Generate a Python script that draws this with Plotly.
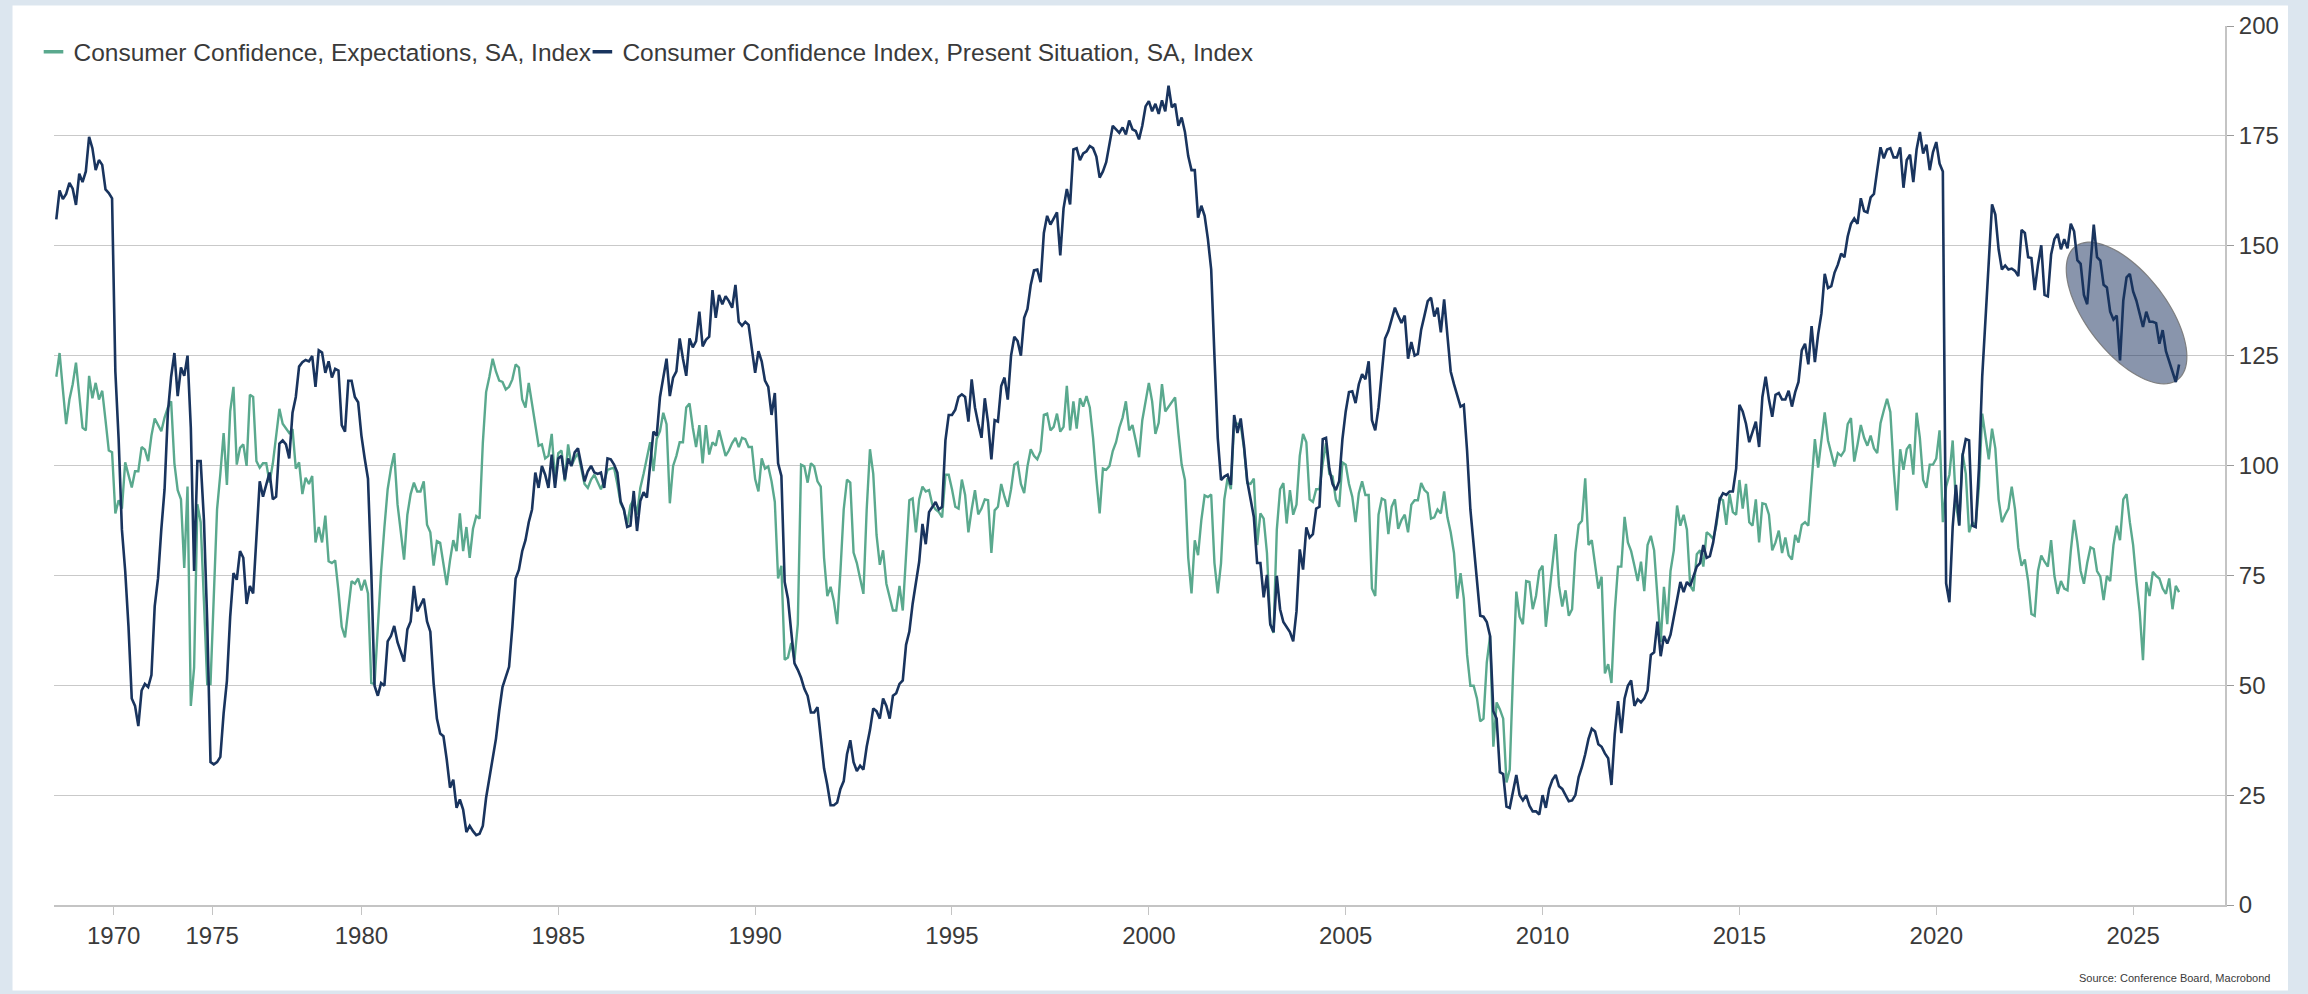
import numpy as np
import pandas as pd
import plotly.graph_objects as go

# ---------------- data ----------------
# Conference Board data: bimonthly Feb-1967 .. Apr-1977, monthly Jun-1977 .. Mar-2026
present_situation = [
    156, 162.6, 160.6, 161.8, 164.3, 163, 159.3, 166.4, 164.5, 166.9,
    174.8, 172.2, 167.2, 169.5, 168.4, 162.8, 162, 160.8, 121.4, 106,
    85.4, 76, 63.4, 47, 45.3, 40.7, 48.8, 50.3, 49.6, 52.3,
    68, 74.3, 85.4, 94.6, 112, 120.2, 125.6, 115.8, 122.3, 120.4,
    125, 108.6, 76, 101, 101, 87.6, 64.5, 32.5, 32, 32.5,
    33.7, 43.6, 51, 65.6, 75.5, 74, 80.5, 79, 68.5, 72.6,
    70.9, 84.2, 96.4, 92.9, 95.8, 98.4, 92.3, 92.9, 105, 105.7,
    104.8, 101.6, 112, 115.6, 122.5, 123.5, 124, 123.7, 124.9, 117.9,
    126.2, 125.7, 121.1, 123.7, 120, 122, 121.6, 109.2, 107.7, 119.3,
    119.3, 115.6, 114.4, 106.8, 101.6, 97, 76,
    49.9, 47.6, 50.5, 49.9, 60, 61.2, 63.5, 59.8, 57.3, 55.4,
    62.7, 64.5, 72.6, 66.8, 68.2, 69.7, 64.5, 62.2, 50.5, 42.4,
    39, 38.4, 33.1, 26.7, 28.5, 22.1, 24, 21.7, 16.6, 18,
    16.8, 15.9, 16.2, 18, 24.4, 29, 33.4, 37.8, 44.2, 49.6,
    51.9, 54.2, 63.3, 74.3, 76.3, 80.5, 83, 87.1, 90, 98.4,
    94.9, 99.9, 97.9, 94.9, 102.5, 94.9, 101.6, 102.2, 96.8, 101.6,
    99.9, 103, 103.9, 99.9, 96.4, 98.7, 99.9, 98.4, 98.1, 98.4,
    94.9, 101.6, 101.4, 100.2, 98.4, 91.8, 90, 86, 86.3, 94.2,
    85.1, 91.9, 93.9, 92.7, 99.9, 107.7, 106.8, 115.6, 120, 124.3,
    115.8, 120, 121.4, 128.9,
    124.3, 120.4, 128.9, 126.9, 128.3, 135, 127.1, 128.6, 129.3, 139.9,
    133.6, 138.8, 136.7, 138.5, 137.4, 135.9, 141.1, 132.7, 131.8, 132.7,
    132, 126, 121.1, 126, 123.7, 119.3, 117.9, 111.5, 116.5, 100.5,
    97.6, 73.5, 69.7, 62.2, 55, 53.5, 51.7, 49.2, 47.6, 43.8,
    43.8, 45, 37.8, 31.1, 27.3, 22.7, 22.7, 23.3, 26.4, 28.2,
    34.3, 37.5, 32.5, 30.5, 31.7, 30.8, 36, 39.8, 44.7, 44.1,
    42.4, 47, 45.3, 42.4, 47.6, 48.2, 50.3, 51.1, 59.2, 62.2,
    68.5, 73.1, 78.1, 86.7, 82.1, 89.4, 90.6, 91.7, 90, 90.6,
    105.7, 111.5, 111.5, 112.7, 115.6, 116.2, 115.6, 110, 119.6, 113.2,
    109.5, 106.3, 115.3, 109.7,
    101.4, 110.3, 110, 118.1, 120, 115, 125, 129.3, 128.3, 125,
    133.6, 135.6, 141.1, 144.4, 144.6, 141.7, 152.9, 156.8, 154.8, 156.2,
    157.6, 147.8, 158.5, 162.9, 159.4, 171.9, 172.2, 169.5, 171, 171.5,
    172.7, 172.2, 170.3, 165.5, 166.9, 169, 173.6, 177.3, 176.5, 175.7,
    176.9, 175.3, 178.5, 176.5, 176.1, 174.2, 177.3, 181.7, 182.9, 180.6,
    182.3, 180, 183.1, 180.6, 186.4, 181.5, 182.3, 177.3, 179.2, 175.9,
    170.4, 167.2, 167.2, 156.4, 159.1, 156.8, 151.5, 144.6, 124.8, 106.3,
    96.7, 97.5, 97.9, 95.6, 111.5, 107.4, 110.7, 104.5, 96.4, 92.6,
    88.3, 77.8, 77.8, 70, 75.1, 63.9, 62.1, 74.9, 67.3, 64.4,
    63.3, 62.1, 60, 66.8, 80.9,
    76.3, 85.9, 83.6, 84.4, 90.2, 90.6, 106, 106.3, 99.3, 95.8,
    94.4, 96.4, 106, 112.3, 116.7, 116.9, 114.2, 118.5, 120.8, 119.6,
    123.7, 110.3, 108, 113.2, 121.4, 128.9, 130.6, 133.5, 135.9, 134.1,
    132.4, 134.1, 124.3, 128.1, 125, 125.4, 130.9, 134.1, 137.4, 138.2,
    133.9, 135.9, 130.3, 137.8, 130, 121.4, 118.5, 116.1, 113.4, 113.8,
    103.3, 90, 81.3, 73.7, 65.8, 65.6, 64.4, 61.2, 44.1, 42.4,
    30.2, 29.8, 22.4, 22.1, 26.1, 29.6, 25, 23.8, 25, 22.6,
    21.3, 21.3, 20.6, 25, 22.1, 26.4, 28.5, 29.6, 27, 26.4,
    25, 23.6, 23.8, 25, 29.1, 31.4, 34.3, 37.8, 40.1, 39.5,
    36.6, 36, 34.5, 33.4,
    27.3, 38.9, 46.4, 39.1, 47, 49.9, 51.1, 45.3, 46.8, 46.1,
    47, 48.8, 56.9, 57.5, 64.5, 56.6, 61.2, 59.5, 61.5, 65.4,
    69.7, 73.5, 71.2, 73.5, 72.6, 74.9, 77, 77.8, 81.9, 79,
    79.4, 82.5, 87.9, 92.3, 93.7, 93.3, 94.1, 94.1, 99.3, 113.8,
    112.3, 109.5, 105.3, 107.4, 110, 104.2, 115.6, 120.2, 115, 111.1,
    116.1, 116.5, 115, 115, 117, 113.4, 116.7, 119, 126.2, 127.7,
    123, 131.7, 123.5, 129.9, 134.6, 143.6, 140.4, 140.8, 143.9, 145.7,
    148.2, 147.4, 152.1, 155, 156.2, 155, 160.8, 157.9, 157.6, 161,
    161.8, 167.2, 172.4, 169.9, 171.9, 172.2, 170.1, 170.1, 172.4, 163.2,
    169.5, 170.7, 164.5, 171.9, 175.9,
    171, 173, 167.2, 171.3, 173.6, 168.7, 166.9, 73.2, 68.9, 86,
    95.6, 86.3, 102.2, 106, 105.7, 86.3, 86, 99.3, 120.2, 133,
    148.6, 159.4, 157.1, 149.2, 144.6, 145.5, 144.6, 144.8, 144.3, 143.1,
    153.6, 152.9, 147.4, 147.2, 139.9, 145.7, 150.1, 138.8, 138.5, 148,
    151.5, 152.7, 149.2, 151.5, 149.4, 155, 153.3, 146.7, 145.9, 138.8,
    136.7, 146.7, 154.8, 147.4, 146.6, 141.1, 140.5, 135, 133.2, 134.1,
    123.9, 137.5, 142.8, 143.6, 139.6, 137.5, 134.6, 131.5, 135, 132.7,
    132.7, 132.4, 127.7, 130.8, 126, 123.7, 121.6, 119, 123,
]

expectations = [
    120.2, 125.6, 117.3, 109.4, 115, 118.5, 123.4, 116.1, 108.6, 108,
    120.4, 115.3, 118.8, 115, 117, 110.3, 103.4, 103, 89.1, 92.1,
    90.2, 100.7, 97.5, 95, 98.7, 98.7, 104.2, 103.6, 101, 106.8,
    110.7, 109.2, 107.8, 110.9, 113.2, 114.6, 100.5, 94.4, 92.3, 76.7,
    95.2, 45.3, 54, 91.2, 87.1, 69.1, 50.3, 50.3, 70.3, 90,
    98.1, 107.4, 95.6, 112.3, 117.9, 100.2, 104, 104.8, 99.9, 116.1,
    115.6, 101, 99.5, 100.5, 100.5, 96.1, 100.5, 106.8, 112.9, 109.5,
    108.3, 107.4, 108.3, 99.3, 100.7, 93.5, 97.2, 95.8, 97.6, 82.5,
    86, 82.5, 88.6, 78.2, 77.8, 78.4, 71.4, 63.3, 60.9, 67.3,
    73.7, 73.1, 74.3, 71.6, 74, 70.9, 50.5,
    50.3, 63.3, 76, 85.9, 94.6, 99.3, 102.8, 91.2, 85.4, 78.6,
    88.8, 93.5, 96.1, 94.1, 94.1, 96.4, 86.5, 84.8, 77.2, 82.8,
    82.4, 77.8, 72.8, 78.4, 83, 80.5, 89.1, 80.5, 86, 79,
    85.6, 88.5, 87.9, 105.1, 116.7, 120.2, 124.3, 121.4, 119.3, 119,
    117.3, 117.9, 119.6, 123, 122.3, 115, 113.2, 118.8, 113.8, 109.8,
    104.5, 104.8, 101.6, 102.2, 107.2, 96.8, 102.8, 103.4, 96.4, 104.8,
    99.9, 101.6, 102.8, 99.3, 95.8, 94.9, 96.8, 97.9, 96.4, 94.6,
    96.4, 99, 99.3, 99.5, 95.8, 91.4, 90, 86.5, 90.9, 92.3,
    88.8, 94.9, 98.1, 101.6, 105.3, 98.7, 106.1, 107.8, 112, 109.4,
    91.4, 99.9, 102.2, 105.3,
    105.3, 113.2, 114.1, 108.6, 104.2, 109.2, 100.5, 109.2, 102.5, 105.3,
    104.5, 108, 105.1, 102.2, 103.4, 105.1, 106.3, 104.2, 106.3, 106,
    104.2, 104.2, 96.9, 94.1, 101.6, 99.3, 99.8, 96.4, 91.7, 74.3,
    77.2, 55.8, 56.3, 59.6, 55.8, 63.9, 100.2, 99.8, 96.1, 100.5,
    99.8, 96.4, 95.2, 79, 70.3, 72.4, 69.1, 63.9, 76, 90,
    96.8, 96.1, 80.2, 77.8, 74.3, 70.8, 90, 103.7, 98.1, 84.2,
    77.4, 80.7, 73.1, 69.7, 67, 67, 72.6, 67, 80.7, 92.1,
    92.5, 84.8, 92.3, 95.2, 94.1, 94.4, 91.1, 90, 89.4, 88.2,
    97.9, 97.9, 94.6, 90.6, 90.2, 96.8, 93.3, 84.8, 90, 94.4,
    88.9, 90.2, 92.3, 92.1,
    80.1, 89.8, 90.6, 95.8, 92.9, 90.6, 94.6, 100.2, 100.7, 95.8,
    93.7, 99.8, 103.7, 102.2, 101.4, 103.3, 111.5, 111.8, 108, 108.8,
    111.8, 107.7, 108.8, 118.1, 108, 114.6, 108.4, 115.3, 113.4, 115.8,
    113.2, 106.3, 97, 89.1, 99.3, 99, 99.9, 103.3, 105.3, 108.6,
    110.9, 114.6, 108, 109.2, 105.7, 101.9, 110.3, 115, 118.8, 114.6,
    107.2, 109.7, 118.5, 112.3, 113.4, 114.2, 115.5, 107.4, 100.2, 96.7,
    79, 70.9, 83, 79.6, 87.6, 93.2, 92.8, 93.4, 77.8, 70.9,
    77.8, 92.3, 97.1, 94.6, 109.7, 109.5, 109.2, 103.9, 96, 95.8,
    97, 81.9, 89.1, 87.9, 80.1, 63.9, 61.9, 85.4, 94.6, 96,
    86.8, 94.4, 88.8, 91.1, 102.2,
    107.2, 105.3, 92.3, 91.7, 94.6, 94.6, 100.5, 105.1, 98.1, 97.5,
    92.3, 90.6, 100.7, 100.2, 95.8, 92.9, 87.1, 93.7, 96.4, 93.3,
    93.3, 72, 70.3, 88.8, 92.5, 92.1, 84.4, 90.6, 92.3, 85.6,
    87.6, 88.8, 84.8, 91.1, 92.1, 92.1, 96, 94.4, 93.7, 87.9,
    88.2, 90, 89.1, 94.1, 88.2, 84.8, 80.1, 69.7, 75.5, 69.7,
    56.9, 49.9, 49.9, 47, 41.8, 42.4, 55.2, 61.2, 36, 46.1,
    44.5, 42.4, 27.9, 30.8, 52.7, 71.3, 65.6, 63.9, 73.7, 73.5,
    67.3, 70.3, 76, 77.2, 63.3, 70.3, 77.2, 84.4, 72.6, 67.9,
    71.6, 65.8, 67.3, 80.1, 86.5, 87.4, 97.1, 81.9, 83, 77.2,
    72, 74.7, 52.7, 54.8,
    50.5, 66.7, 77, 77, 88.3, 82.5, 80.5, 77.2, 73.7, 78.1,
    71.4, 81.9, 84, 80.7, 69.1, 59.8, 72.4, 63.9, 76, 80.7,
    90.9, 86.3, 88.8, 85.4, 72.6, 71.4, 79.8, 80.7, 77, 84.8,
    84.2, 83.3, 86.5, 92.5, 92.1, 86.5, 93.5, 89.4, 88.8, 96.7,
    90.2, 95.8, 87.1, 86.3, 92.3, 82.5, 91.4, 91.2, 88.8, 80.7,
    82.5, 85.2, 80.1, 83.6, 79.6, 78.6, 84.2, 82.5, 86.5, 87.1,
    86.3, 95.8, 106, 99.5, 105.7, 112.1, 105.7, 102.8, 99.8, 102.8,
    102.2, 103.4, 109.4, 110.8, 100.9, 104.8, 109.2, 106.3, 104.5, 106.8,
    103.9, 102.8, 109.6, 112.5, 115.2, 112.2, 99.3, 89.8, 103.7, 99,
    103.7, 104.8, 97.9, 112, 106.3,
    96.7, 94.9, 100.2, 100.2, 101.6, 108, 87.1, 95.2, 97.9, 105.7,
    91.1, 86.5, 102.8, 98.1, 84.8, 87.1, 86.3, 95.2, 111.8, 106.8,
    101.4, 108.4, 103.9, 92.3, 87.1, 88.8, 90.2, 95.2, 90, 81.3,
    77.2, 78.6, 73.7, 66.2, 65.8, 76, 79.5, 78.1, 77, 83,
    74.9, 70.8, 73.7, 72, 71.6, 80.6, 87.6, 82.5, 76, 73.1,
    77.8, 81.4, 81, 76, 74.7, 69.4, 74.9, 73.7, 81.9, 86.3,
    83, 92.3, 93.5, 87.1, 81.9, 73.7, 66.7, 55.7, 73.5, 70.3,
    75.8, 74.9, 74.3, 72, 70.8, 74.3, 67.3, 72.6, 71.2,
]

tick_years = [1970, 1975, 1980, 1985, 1990, 1995, 2000, 2005, 2010, 2015, 2020, 2025]
y_ticks = [0, 25, 50, 75, 100, 125, 150, 175, 200]

name_exp = "Consumer Confidence, Expectations, SA, Index"
name_pres = "Consumer Confidence Index, Present Situation, SA, Index"
source_text = "Source: Conference Board, Macrobond"

# ---------------- observation axis (one slot per survey) ----------------
dates = pd.date_range("1967-02-01", "1977-04-01", freq="2MS").append(
    pd.date_range("1977-06-01", "2026-03-01", freq="MS"))
pos = np.arange(len(dates))
frac_year = np.asarray(dates.year + (dates.month - 1) / 12.0, dtype=float)
tick_pos = np.interp(tick_years, frac_year, pos)
date_lbl = [d.strftime("%b %Y") for d in dates]

# ---------------- layout geometry ----------------
W, H = 2308, 994
ML, MR, MT, MB = 53.5, 83, 25.6, 89.4
x_range = [-0.7, 661.0]
y_range = [0, 200]
plot_w = W - ML - MR
plot_h = H - MT - MB
FONT = "Liberation Sans, Arial, Helvetica, sans-serif"
GREEN = "#5aa98e"
NAVY = "#19345e"
TXT = "#3a3a3a"

def px_to_paper_x(px):
    return (px - ML) / plot_w

def px_to_paper_y(py):
    return (H - MB - py) / plot_h

fig = go.Figure()
n_e = min(len(expectations), len(pos))
n_p = min(len(present_situation), len(pos))
fig.add_trace(go.Scatter(
    x=pos[:n_e], y=expectations[:n_e], customdata=date_lbl[:n_e], mode="lines",
    name=name_exp, line=dict(color=GREEN, width=2.4), legendgroup="exp", showlegend=False,
    hovertemplate="%{customdata}: %{y:.1f}<extra></extra>"))
fig.add_trace(go.Scatter(
    x=pos[:n_p], y=present_situation[:n_p], customdata=date_lbl[:n_p], mode="lines",
    name=name_pres, line=dict(color=NAVY, width=2.6), legendgroup="pres", showlegend=False,
    hovertemplate="%{customdata}: %{y:.1f}<extra></extra>"))
# legend entries with the short dash key used by the source chart
fig.add_trace(go.Scatter(x=[None], y=[None], mode="markers", name=name_exp,
                         legendgroup="exp", legend="legend", hoverinfo="skip",
                         marker=dict(symbol="line-ew", size=14, color=GREEN,
                                     line=dict(color=GREEN, width=3.5))))
fig.add_trace(go.Scatter(x=[None], y=[None], mode="markers", name=name_pres,
                         legendgroup="pres", legend="legend2", hoverinfo="skip",
                         marker=dict(symbol="line-ew", size=14, color=NAVY,
                                     line=dict(color=NAVY, width=3.5))))

# highlight ellipse around the latest Present Situation readings
px_per_x = plot_w / (x_range[1] - x_range[0])
px_per_y = plot_h / (y_range[1] - y_range[0])
ell_cx, ell_cy = 631.0, 134.7          # centre in data units
ell_a, ell_b, ell_rot = 84.0, 40.0, np.deg2rad(52.3)   # semi-axes (px) and tilt
t = np.linspace(0, 2 * np.pi, 90)
dxp = ell_a * np.cos(t) * np.cos(ell_rot) - ell_b * np.sin(t) * np.sin(ell_rot)
dyp = ell_a * np.cos(t) * np.sin(ell_rot) + ell_b * np.sin(t) * np.cos(ell_rot)
ex = ell_cx + dxp / px_per_x
ey = ell_cy - dyp / px_per_y
path = "M " + " L ".join(f"{a:.3f},{b:.3f}" for a, b in zip(ex, ey)) + " Z"

shapes = [
    dict(type="rect", xref="paper", yref="paper", layer="below",
         x0=px_to_paper_x(12), x1=px_to_paper_x(2288),
         y0=px_to_paper_y(990), y1=px_to_paper_y(5),
         fillcolor="white", line=dict(width=0)),
    dict(type="path", path=path, xref="x", yref="y", layer="between",
         fillcolor="rgba(28,52,96,0.52)", line=dict(color="rgba(120,120,120,0.9)", width=1.2)),
]

legend_common = dict(orientation="h", xanchor="left", yanchor="top",
                     y=px_to_paper_y(29), bgcolor="rgba(0,0,0,0)",
                     font=dict(size=24.5, color=TXT, family=FONT),
                     itemwidth=30, tracegroupgap=0, borderwidth=0)

fig.update_layout(
    width=W, height=H,
    margin=dict(l=ML, r=MR, t=MT, b=MB, pad=0),
    paper_bgcolor="#dce6ef",
    plot_bgcolor="rgba(0,0,0,0)",
    font=dict(family=FONT, size=24, color=TXT),
    showlegend=True,
    legend=dict(x=px_to_paper_x(33), **legend_common),
    legend2=dict(x=px_to_paper_x(582), **legend_common),
    shapes=shapes,
    annotations=[dict(text=source_text, xref="paper", yref="paper",
                      x=px_to_paper_x(2272), y=px_to_paper_y(978),
                      xanchor="right", yanchor="middle", showarrow=False,
                      font=dict(size=11, color=TXT, family=FONT))],
    xaxis=dict(range=x_range, tickmode="array", tickvals=tick_pos,
               ticktext=[str(y) for y in tick_years],
               showgrid=False, zeroline=False,
               showline=True, linecolor="#c4c4c4", linewidth=1.5,
               ticks="outside", ticklen=8, tickcolor="#c4c4c4", tickwidth=1,
               tickfont=dict(size=24, color=TXT), fixedrange=True),
    yaxis=dict(range=y_range, side="right", tickmode="array", tickvals=y_ticks,
               showgrid=True, gridcolor="#c9c9c9", gridwidth=1, zeroline=False,
               showline=True, linecolor="#c4c4c4", linewidth=2,
               ticks="outside", ticklen=7, tickcolor="#9a9a9a", tickwidth=1,
               tickfont=dict(size=24, color=TXT), fixedrange=True),
    hovermode="closest",
)

fig.write_html("out.html", config={"displayModeBar": False},
               post_script="document.body.style.margin='0';document.body.style.overflow='hidden';")
